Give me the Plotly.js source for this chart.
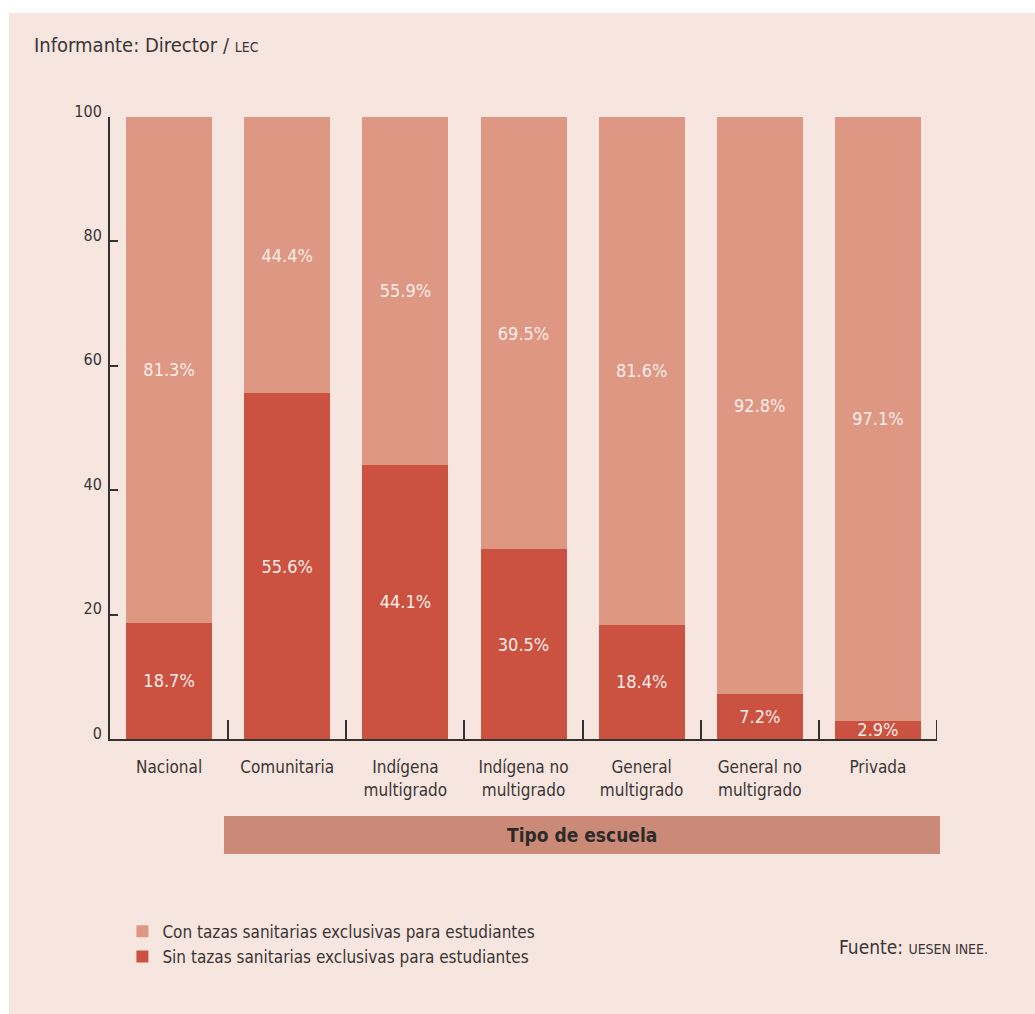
<!DOCTYPE html>
<html>
<head>
<meta charset="utf-8">
<script src="https://cdn.plot.ly/plotly-3.0.1.min.js"></script>
<style>
html,body{margin:0;padding:0;background:#ffffff;}
#chart{position:absolute;left:9px;top:13px;width:1026px;height:1001px;}
</style>
</head>
<body>
<div id="chart"></div>
<script>
const categories = ["Nacional", "Comunitaria", "Indígena<br>multigrado", "Indígena no<br>multigrado", "General<br>multigrado", "General no<br>multigrado", "Privada"];
const sinValues = [18.7, 55.6, 44.1, 30.5, 18.4, 7.2, 2.9];
const conValues = [81.3, 44.4, 55.9, 69.5, 81.6, 92.8, 97.1];
const seriesNames = ["Sin tazas sanitarias exclusivas para estudiantes", "Con tazas sanitarias exclusivas para estudiantes"];
const yTicks = [0, 20, 40, 60, 80, 100];

const FONT = "Liberation Sans Narrow, DejaVu Sans Condensed, Arial Narrow, sans-serif";
const TXT = "#3a3535";

const fmt = v => v.toFixed(1) + "%";

const traces = [
  {
    type: "bar", name: seriesNames[0], x: categories, y: sinValues,
    marker: {color: "#CB5241"},
    text: sinValues.map(fmt), textposition: "inside", insidetextanchor: "middle",
    constraintext: "none", cliponaxis: false,
    textfont: {family: FONT, size: 18, color: "#FBEDE8"},
    hoverinfo: "skip"
  },
  {
    type: "bar", name: seriesNames[1], x: categories, y: conValues,
    marker: {color: "#DE9783"},
    text: conValues.map(fmt), textposition: "inside", insidetextanchor: "middle",
    constraintext: "none", cliponaxis: false,
    textfont: {family: FONT, size: 18, color: "#FBEDE8"},
    hoverinfo: "skip"
  }
];

const layout = {
  width: 1026, height: 1001,
  paper_bgcolor: "#F7E6DF", plot_bgcolor: "#F7E6DF",
  margin: {l: 101, r: 98, t: 104, b: 275},
  barmode: "stack", bargap: 0.272,
  font: {family: FONT, color: TXT, size: 16},
  showlegend: true,
  legend: {
    traceorder: "reversed", orientation: "v",
    x: 0.015, xanchor: "left", y: -0.281, yanchor: "top",
    bgcolor: "rgba(0,0,0,0)", font: {family: FONT, size: 17, color: TXT},
    tracegroupgap: 0, itemclick: false, itemdoubleclick: false
  },
  xaxis: {
    type: "category", range: [-0.5, 6.5], fixedrange: true,
    showline: true, linecolor: "#333333", linewidth: 2,
    ticks: "inside", tickson: "boundaries", ticklen: 19, tickwidth: 2, tickcolor: "#333333",
    tickfont: {family: FONT, size: 17, color: TXT},
    ticklabelstandoff: 12,
    showgrid: false, zeroline: false
  },
  yaxis: {
    range: [0, 100], tickvals: yTicks, ticktext: yTicks.map(String), fixedrange: true,
    showline: true, linecolor: "#333333", linewidth: 2,
    ticks: "inside", ticklen: 8, tickwidth: 2, tickcolor: "#333333",
    tickfont: {family: FONT, size: 16, color: TXT},
    ticklabelstandoff: 3, ticklabelshift: -6,
    showgrid: false, zeroline: false
  },
  shapes: [
    {type: "rect", xref: "paper", yref: "paper", x0: 0.1378, x1: 1.0036, y0: -0.1238, y1: -0.1849,
     fillcolor: "#CB8A78", line: {width: 0}, layer: "below"},
    {type: "line", xref: "x", yref: "y", ysizemode: "pixel", yanchor: 0, x0: 6.5, x1: 6.5, y0: 0, y1: 19,
     line: {color: "#333333", width: 2}}
  ],
  annotations: [
    {xref: "paper", yref: "paper", x: 0.5707, y: -0.1543, xanchor: "center", yanchor: "middle",
     text: "<b>Tipo de escuela</b>", showarrow: false, font: {family: FONT, size: 19, color: "#2e2a2a"}},
    {xref: "paper", yref: "paper", x: -0.094, y: 1.115, xanchor: "left", yanchor: "middle",
     text: "Informante: Director / <span style='font-size:14px'>LEC</span>", showarrow: false,
     font: {family: FONT, size: 20, color: TXT}},
    {xref: "paper", yref: "paper", x: 1.064, y: -0.335, xanchor: "right", yanchor: "middle",
     text: "Fuente: <span style='font-size:14px'>UESEN INEE.</span>", showarrow: false,
     font: {family: FONT, size: 19, color: TXT}}
  ]
};

Plotly.newPlot("chart", traces, layout, {displayModeBar: false, staticPlot: true});
</script>
</body>
</html>
